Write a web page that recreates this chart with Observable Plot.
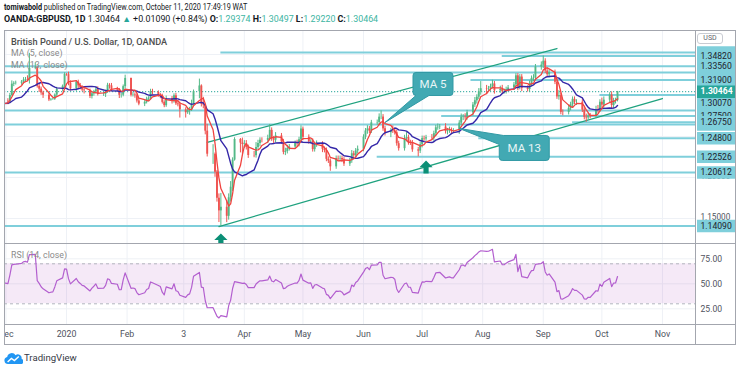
<!DOCTYPE html>
<html><head><meta charset="utf-8">
<script src="https://cdn.jsdelivr.net/npm/d3@7"></script>
<script src="https://cdn.jsdelivr.net/npm/@observablehq/plot@0.6"></script>
<style>
html,body{margin:0;padding:0;background:#fff;}
#root{position:relative;width:740px;height:370px;overflow:hidden;font-family:Roboto,"Liberation Sans",sans-serif;background:#fff;}
#root div{white-space:nowrap;}
</style></head>
<body><div id="root"></div>
<script>
// ---------------- DATA ----------------
// Nov 2019 closes (only used to warm up MA / RSI, off-screen)
const warmupCloses = [1.2940,1.2888,1.2874,1.2877,1.2794,1.2772,1.2857,1.2849,1.2860,1.2897,1.2914,1.2943,1.2916,1.2939,1.2914,1.2832,1.2858,1.2855,1.2920,1.2919,1.2931];
// daily closes 2 Dec 2019 .. 9 Oct 2020 (weekdays)
const closes = [
 1.2922,1.3000,1.3138,1.3148,1.3150,1.3163,1.3188,1.3195,1.3190,1.3329,1.3336,1.3110,1.3077,1.3032,1.3004,1.2946,1.2952,1.2955,1.3005,1.3075,1.3113,1.3257, // Dec
 1.3255,1.3149,1.3080,1.3162,1.3117,1.3094,1.3066,1.3059,1.2988,1.3021,1.3043,1.3071,1.3014,1.3016,1.3046,1.3124,1.3117,1.3075,1.3066,1.3003,1.3004,1.3108,1.3208, // Jan
 1.3002,1.3006,1.2997,1.2933,1.2895,1.2917,1.2954,1.2966,1.3046,1.3036,1.3004,1.2991,1.2916,1.2876,1.2963,1.2936,1.2996,1.2898,1.2887,1.2825, // Feb
 1.2790,1.2815,1.2825,1.2893,1.3047,1.3116,1.2894,1.2884,1.2565,1.2284,1.2285,1.2064,1.1747,1.1593,1.1637,1.1527,1.1753,1.1882,1.2212,1.2464,1.2420,1.2403, // Mar
 1.2410,1.2365,1.2268,1.2266,1.2366,1.2414,1.2454,1.2453,1.2476,1.2575,1.2471,1.2455,1.2507,1.2435,1.2307,1.2317,1.2353,1.2372,1.2415,1.2413,1.2461,1.2590, // Apr
 1.2490,1.2436,1.2441,1.2340,1.2398,1.2406,1.2343,1.2330,1.2222,1.2201,1.2130,1.2232,1.2227,1.2232,1.2212,1.2165,1.2203,1.2289,1.2266,1.2323,1.2344, // May
 1.2491,1.2567,1.2592,1.2567,1.2667,1.2671,1.2736,1.2737,1.2593,1.2546,1.2569,1.2567,1.2547,1.2412,1.2352,1.2475,1.2487,1.2424,1.2421,1.2337,1.2322,1.2401, // Jun
 1.2475,1.2471,1.2484,1.2481,1.2535,1.2606,1.2612,1.2616,1.2560,1.2568,1.2574,1.2566,1.2566,1.2663,1.2734,1.2737,1.2729,1.2789,1.2884,1.2936,1.2979,1.3044,1.3083, // Jul
 1.3079,1.3081,1.3109,1.3141,1.3057,1.3074,1.3047,1.3048,1.3072,1.3092,1.3129,1.3240,1.3099,1.3225,1.3088,1.3073,1.3147,1.3208,1.3214,1.3348,1.3370, // Aug
 1.3418,1.3298,1.3254,1.3280,1.3163,1.2983,1.2999,1.2795,1.2793,1.2843,1.2888,1.2953,1.2918,1.2918,1.2822,1.2733,1.2727,1.2751,1.2747,1.2829,1.2823,1.2918, // Sep
 1.2883,1.2943,1.3004,1.2878,1.2936,1.29374,1.30464 // Oct
];
// upper / lower wick beyond the body, in pips
const wickUp = [
 30,25,40,20,25,20,30,25,45,185,60,17,40,25,20,20,10,10,15,25,15,20,
 10,30,30,20,25,30,25,30,20,25,20,30,35,20,20,25,20,30,25,20,20,20,40,
 5,30,25,20,30,20,25,20,30,30,20,20,25,20,30,25,25,30,35,30,
 25,40,30,50,20,84,14,84,6,84,115,15,21,53,169,83,47,68,28,21,11,61,
 40,40,30,50,60,40,30,30,40,72,30,30,40,30,30,40,40,30,30,40,30,40,
 25,30,20,30,30,40,30,30,30,30,25,30,30,30,30,30,30,40,30,30,40,
 30,30,40,30,30,30,40,76,30,30,30,60,30,30,30,40,60,30,30,30,30,30,
 30,30,30,40,30,30,40,30,40,30,40,30,30,30,40,30,40,30,30,40,30,40,87,
 40,30,30,45,30,40,50,30,30,30,30,27,27,30,30,30,30,30,40,30,40,
 64,30,40,30,30,30,60,30,30,40,30,30,30,30,30,30,40,30,30,40,50,30,
 50,40,30,40,30,30,3
];
const wickDown = [
 35,20,10,30,20,25,25,30,20,50,15,20,40,30,40,20,15,10,15,20,25,20,
 20,30,25,30,30,25,20,40,25,30,30,25,20,25,40,20,40,30,20,40,35,20,30,
 20,20,30,25,20,30,20,25,20,30,25,30,20,25,20,40,30,20,25,100,
 65,20,55,20,13,87,34,46,45,34,124,61,47,142,184,77,47,53,52,12,120,120,
 50,30,35,25,30,30,40,30,40,30,30,40,30,30,30,40,30,30,30,40,40,40,
 40,30,30,30,30,30,40,30,30,30,54,30,30,30,30,30,30,30,40,30,30,
 30,30,40,30,30,30,40,30,30,40,60,30,30,30,30,30,40,30,30,30,70,30,
 40,30,30,30,40,30,30,30,30,40,30,30,30,40,30,40,30,30,40,30,40,30,40,
 70,30,30,30,40,30,30,30,30,30,30,30,40,30,40,30,30,40,40,30,40,
 40,30,30,40,30,30,40,30,40,30,30,40,30,40,30,30,52,30,30,30,40,30,
 50,40,40,40,40,40,15
];
// horizontal support / resistance lines (price, start date or null = full width)
const levelPrices = [1.3524,1.3482,1.3356,1.3280,1.3190,1.3007,1.2817,1.2750,1.2675,1.2645,1.2480,1.22526,1.20612,1.1409];
const levelStarts = ["2020-03-20","2020-08-11",null,null,"2020-07-26","2020-09-30",null,"2020-07-11","2020-09-16",null,"2020-07-30","2020-06-08",null,null];
// price-scale labels (drawn in this order)
const labelPrices = [1.3524,1.3280,1.2817,1.2645,1.3482,1.3356,1.3190,1.3007,1.2750,1.2675,1.2480,1.22526,1.20612,1.1409,1.30464];
const labelTexts  = [null,null,null,null,"1.34820","1.33560","1.31900","1.30070","1.27500","1.26750","1.24800","1.22526","1.20612","1.14090","1.30464"];
const labelShift  = [0,0,0,0,0,0,0,8.5,0,0,0,0,0,0,0];
const tickPrices = [1.15,1.20];
const tickTexts = ["1.15000","1.20000"];
const gridPrices = [1.15,1.20,1.25,1.30,1.35];
// channel lines
const channelIds = ["upper","upper","lower","lower"];
const channelDates = ["2020-03-13","2020-09-08","2020-03-19","2020-11-01"];
const channelPrices = [1.2427,1.3573,1.1402,1.2963];
// arrows and callouts
const arrowDates = ["2020-03-20","2020-07-03"];
const arrowPrices = [1.1317,1.2207];
const calloutTexts = ["MA 5","MA 13"];
const calloutDates = ["2020-06-12","2020-07-20"];
const calloutPrices = [1.2671,1.2598];
// time axis
const monthDates = ["2019-12-01","2020-01-01","2020-02-01","2020-03-01","2020-04-01","2020-05-01","2020-06-01","2020-07-01","2020-08-01","2020-09-01","2020-10-01","2020-11-01"];
const monthLabels = ["Dec","2020","Feb","3","Apr","May","Jun","Jul","Aug","Sep","Oct","Nov"];
const rsiTicks = [25,50,75];
const rsiBandLevels = [30,70];
// header
const author = "tomiwabold";
const publishLine = " published on TradingView.com, October 11, 2020 17:49:19 WAT";
const symbolName = "OANDA:GBPUSD, 1D";
const lastPrice = "1.30464";
const changeText = "+0.01090 (+0.84%)";
const ohlcKeys = ["O","H","L","C"];
const ohlcVals = ["1.29374","1.30497","1.29220","1.30464"];
const legendTitle = "British Pound / U.S. Dollar, 1D, OANDA";
const legendMA = ["MA (5, close)","MA (13, close)"];

// ---------------- BUILD ----------------
const UP="#53b987", DOWN="#ef5350", LEVEL="#7fcfdb", TEAL="#26a69a";
const xStart = new Date(Date.UTC(2019,10,30,6)), xEnd = new Date(Date.UTC(2020,10,17,22));
const yMain = [1.11951,1.37927];
const yRsi = [9.3,90.3];
const utc = s => new Date(s+"T00:00:00Z");

function weekdaysFrom(startISO, n){const out=[];let d=utc(startISO);while(out.length<n){const w=d.getUTCDay();if(w!==0&&w!==6)out.push(new Date(d));d=new Date(d.getTime()+864e5);}return out;}
const allCloses = warmupCloses.concat(closes);
const allDates = weekdaysFrom("2019-11-01", allCloses.length);
const series = allCloses.map((c,i)=>({date:allDates[i], close:c}));
const W = warmupCloses.length;
const bars = closes.map((c,j)=>{const i=j+W;const o=allCloses[i-1];return {date:allDates[i],open:o,close:c,high:Math.max(o,c)+(wickUp[j]||0)*1e-4,low:Math.min(o,c)-(wickDown[j]||0)*1e-4};});

function rsiOf(v,n){const out=v.map(()=>NaN);let g=0,l=0;for(let i=1;i<=n;i++){const d=v[i]-v[i-1];if(d>0)g+=d;else l-=d;}g/=n;l/=n;out[n]=100-100/(1+g/l);
 for(let i=n+1;i<v.length;i++){const d=v[i]-v[i-1];g=(g*(n-1)+Math.max(d,0))/n;l=(l*(n-1)+Math.max(-d,0))/n;out[i]=l===0?100:100-100/(1+g/l);}return out;}
const rsiVals = rsiOf(allCloses,14);
const rsiData = series.map((d,i)=>({date:d.date,rsi:rsiVals[i]})).filter(d=>!isNaN(d.rsi));

const levels = levelPrices.map((p,i)=>({price:p, from: levelStarts[i]?utc(levelStarts[i]):xStart, to:xEnd}));
const labels = labelPrices.map((p,i)=>({price:p,text:labelTexts[i],shift:labelShift[i],current:i===labelPrices.length-1}));
const channel = channelIds.map((id,i)=>({id,date:utc(channelDates[i]),price:channelPrices[i]}));
const arrows = arrowDates.map((d,i)=>({date:utc(d),price:arrowPrices[i]}));
const months = monthDates.map((d,i)=>({date:utc(d),label:monthLabels[i]}));
const band = [{from:xStart,to:xEnd,lo:rsiBandLevels[0],hi:rsiBandLevels[1]}];

const arrowSym = {draw(c){c.moveTo(0,0);c.lineTo(6.6,6.6);c.lineTo(2.6,6.6);c.lineTo(2.6,13);c.lineTo(-2.6,13);c.lineTo(-2.6,6.6);c.lineTo(-6.6,6.6);c.closePath();}};
const ma5Sym = {draw(c){c.moveTo(31,-50);c.lineTo(65,-50);c.quadraticCurveTo(68,-50,68,-47);c.lineTo(68,-30);c.quadraticCurveTo(68,-27,65,-27);c.lineTo(44,-27);c.lineTo(0,0);c.lineTo(31,-27);c.quadraticCurveTo(28,-27,28,-30);c.lineTo(28,-47);c.quadraticCurveTo(28,-50,31,-50);c.closePath();}};
const ma13Sym = {draw(c){c.moveTo(44,7);c.lineTo(87,7);c.quadraticCurveTo(90,7,90,10);c.lineTo(90,29);c.quadraticCurveTo(90,32,87,32);c.lineTo(43,32);c.quadraticCurveTo(40,32,40,29);c.lineTo(40,16);c.lineTo(0,0);c.closePath();}};
const callouts = calloutTexts.map((t,i)=>({text:t,date:utc(calloutDates[i]),price:calloutPrices[i]}));
const calloutGeom = [{sym:ma5Sym,dx:48,dy:-38.5},{sym:ma13Sym,dx:65,dy:19.5}];

const root = document.getElementById("root");
function div(css, html){const d=document.createElement("div");d.style.cssText="position:absolute;"+css;if(html!=null)d.innerHTML=html;root.appendChild(d);return d;}

// header: one text per line, horizontally scaled to the reference width
const hdr = document.createElementNS("http://www.w3.org/2000/svg","svg");
hdr.setAttribute("width",740);hdr.setAttribute("height",28);hdr.style.cssText="position:absolute;left:0;top:0;";
hdr.innerHTML = `<g id="h1"><text x="0" y="9.8" font-size="8.4" fill="#131722" font-family="Roboto"><tspan font-weight="bold">${author}</tspan>${publishLine}</text></g>
<g id="h2"><text x="0" y="22.4" font-size="8.4" fill="#131722" font-family="Roboto"><tspan font-weight="bold">${symbolName}</tspan> ${lastPrice} <tspan fill="${TEAL}">▲</tspan> ${changeText} ${ohlcKeys.map((k,i)=>`<tspan font-weight="bold">${k}:</tspan><tspan fill="#3cb5a2">${ohlcVals[i]}</tspan>`).join(" ")}</text></g>`;
root.appendChild(hdr);
[["h1",243],["h2",374]].forEach(([id,target])=>{const g=hdr.querySelector("#"+id);const w=g.getBBox().width||target;g.setAttribute("transform",`translate(4,0) scale(${target/w},1)`);});

// main price panel
const mainPlot = Plot.plot({
  width:695,height:213,marginLeft:4,marginRight:0,marginTop:0,marginBottom:0,
  x:{type:"utc",domain:[xStart,xEnd],axis:null},
  y:{domain:yMain,axis:null},
  color:{type:"identity"},
  style:{background:"transparent",fontFamily:"Roboto",overflow:"hidden"},
  marks:[
    Plot.ruleX(months,{x:"date",stroke:"#eef1f6"}),
    Plot.ruleY(gridPrices,{stroke:"#eef1f6"}),
    Plot.ruleY(levels,{y:"price",x1:"from",x2:"to",stroke:LEVEL,strokeWidth:2,clip:true}),
    Plot.ruleY([closes[closes.length-1]],{stroke:TEAL,strokeWidth:1,strokeDasharray:"1.2,1.8"}),
    Plot.line(channel,{x:"date",y:"price",z:"id",stroke:"#1fa27f",strokeWidth:1.3,clip:true}),
    Plot.ruleX(bars,{x:"date",y1:"low",y2:"high",stroke:d=>d.close>=d.open?UP:DOWN,strokeWidth:1,clip:true}),
    Plot.ruleX(bars,{x:"date",y1:"open",y2:"close",stroke:d=>d.close>=d.open?UP:DOWN,strokeWidth:1.9,clip:true}),
    Plot.lineY(series,Plot.windowY({k:13,anchor:"end"},{x:"date",y:"close",stroke:"#3427a8",strokeWidth:1.4,clip:true})),
    Plot.lineY(series,Plot.windowY({k:5,anchor:"end"},{x:"date",y:"close",stroke:"#f0433f",strokeWidth:1.3,clip:true})),
    Plot.dot(arrows,{x:"date",y:"price",symbol:arrowSym,fill:"#0b8f76",stroke:"none",clip:true}),
    ...callouts.map((c,i)=>[
      Plot.dot([c],{x:"date",y:"price",symbol:calloutGeom[i].sym,fill:"#42a9b3",stroke:"#3199a4",strokeWidth:1,clip:true}),
      Plot.text([c],{x:"date",y:"price",text:"text",dx:calloutGeom[i].dx,dy:calloutGeom[i].dy,fill:"#e8f5f6",fontSize:11.5,clip:true})
    ])
  ]
});
div("left:0;top:30px;width:695px;height:213px;").appendChild(mainPlot);

// price-scale labels
const labelPlot = Plot.plot({
  width:45,height:213,marginLeft:2,marginRight:5,marginTop:0,marginBottom:0,
  x:{domain:[0,1],axis:null},y:{domain:yMain,axis:null},
  style:{background:"transparent",fontFamily:"Roboto"},
  marks:[
    Plot.text(tickPrices.map((p,i)=>({price:p,text:tickTexts[i]})),{y:"price",text:"text",frameAnchor:"left",dx:3,dy:-1.5,fill:"#50535e",fontSize:8.2}),
    ...labels.map(l=>[
      Plot.ruleY([l],{y:"price",stroke:l.current?TEAL:LEVEL,strokeWidth:12.5,dy:l.shift}),
      l.text?Plot.text([l],{y:"price",text:"text",frameAnchor:"left",dx:3,dy:l.shift,fill:l.current?"#ffffff":"#1e222d",fontSize:8.6,fontWeight:l.current?"bold":"normal"}):null
    ])
  ]
});
div("left:695px;top:30px;width:45px;height:213px;").appendChild(labelPlot);

// RSI panel + time axis
const rsiPlot = Plot.plot({
  width:695,height:102,marginLeft:4,marginRight:0,marginTop:0,marginBottom:21,
  x:{type:"utc",domain:[xStart,xEnd],axis:null},
  y:{domain:yRsi,axis:null},
  style:{background:"transparent",fontFamily:"Roboto"},
  marks:[
    Plot.ruleX(months,{x:"date",stroke:"#eef1f6",y1:yRsi[0],y2:yRsi[1]}),
    Plot.ruleY(rsiTicks,{stroke:"#eef1f6"}),
    Plot.rect(band,{x1:"from",x2:"to",y1:"lo",y2:"hi",fill:"#9c27b0",fillOpacity:0.1}),
    Plot.ruleY(rsiBandLevels,{stroke:"#b2b5be",strokeDasharray:"3,3"}),
    Plot.line(rsiData,{x:"date",y:"rsi",stroke:"#b35fcf",strokeWidth:1.2,clip:true}),
    Plot.text(months,{x:"date",text:"label",frameAnchor:"bottom",dy:12.5,fill:"#50535e",fontSize:8.8})
  ]
});
div("left:0;top:243px;width:695px;height:102px;clip-path:inset(0 0 0 4px);").appendChild(rsiPlot);

const rsiLabelPlot = Plot.plot({
  width:45,height:81,marginLeft:0,marginRight:0,marginTop:0,marginBottom:0,
  x:{domain:[0,1],axis:null},y:{domain:yRsi,axis:null},
  style:{background:"transparent",fontFamily:"Roboto"},
  marks:[Plot.text(rsiTicks,{y:d=>d,text:d=>d.toFixed(2),frameAnchor:"left",dx:5,fill:"#50535e",fontSize:8.6})]
});
div("left:695px;top:243px;width:45px;height:81px;").appendChild(rsiLabelPlot);

// legends
div("left:11px;top:37px;font-size:9.2px;line-height:10px;color:#4e4e4e;font-weight:500;", legendTitle);
div("left:11px;top:48px;font-size:8.8px;line-height:10px;color:#8a8a8a;", legendMA[0]);
div("left:11px;top:60px;font-size:8.8px;line-height:10px;color:#8a8a8a;", legendMA[1]);
div("left:11px;top:250px;font-size:8.8px;line-height:10px;color:#8a8a8a;", "RSI (14, close)");
// USD box
div("left:697px;top:33px;width:26px;height:11px;border:1px solid #c8cbd2;border-radius:3px;background:#fff;font-size:7px;line-height:9px;text-align:center;color:#5d606b;box-sizing:border-box;", "USD");

// frame lines
const B="#a3a6ae";
div(`left:4px;top:30px;width:732px;height:1px;background:${B};`);
div(`left:4px;top:243px;width:732px;height:1px;background:${B};`);
div(`left:4px;top:324px;width:732px;height:1px;background:${B};`);
div(`left:4px;top:344px;width:732px;height:1px;background:${B};`);
div(`left:4px;top:30px;width:1px;height:315px;background:${B};`);
div(`left:695px;top:30px;width:1px;height:315px;background:${B};`);
div(`left:735px;top:30px;width:1px;height:315px;background:${B};`);

// footer logo
div("left:4px;top:351px;width:80px;height:14px;", `<svg width="19" height="12" style="position:absolute;left:0;top:1px"><path d="M4 12 A3.6 3.6 0 0 1 3.2 4.9 A4.6 4.6 0 0 1 11.6 3.2 A3.8 3.8 0 0 1 17.6 7 A2.6 2.6 0 0 1 16 12 Z" fill="#2196f3"/><polyline points="3.6,10 7.4,6.4 10.4,8.6 14.8,4.4" fill="none" stroke="#fff" stroke-width="1.4"/></svg><span style="position:absolute;left:20px;top:0;font-size:9.6px;line-height:13px;color:#363a45;">TradingView</span>`);
</script>
</body></html>
